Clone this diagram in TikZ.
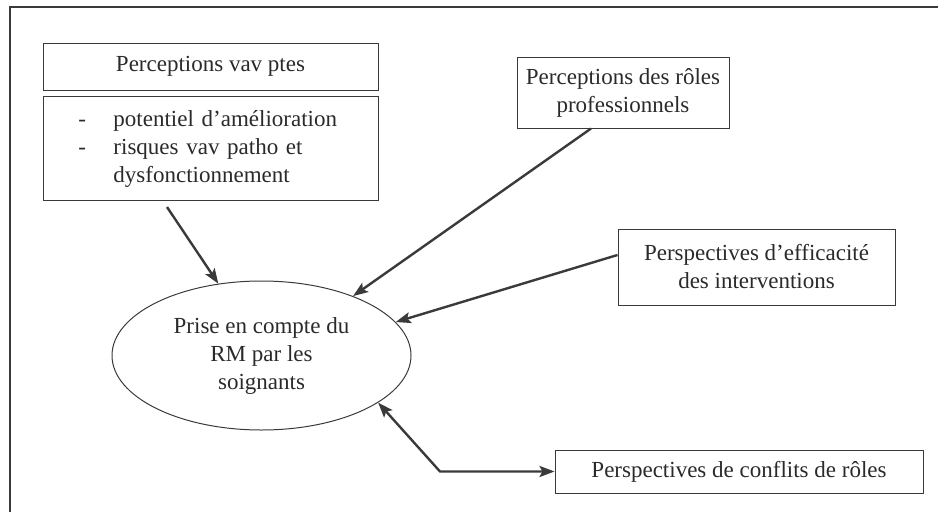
\documentclass[tikz,border=0pt]{standalone}
\usepackage{fontspec}
\setmainfont{Liberation Serif}
\usetikzlibrary{arrows.meta,shapes.geometric,calc}

\definecolor{ink}{HTML}{2A2A2A}
\definecolor{rule}{HTML}{3A3A3A}

\tikzset{
  txt/.style={text=ink, font=\fontsize{23}{28}\selectfont},
  box/.style={draw=rule, line width=1pt, txt, inner sep=0pt, align=center},
  link/.style={draw=rule, line width=2.4pt,
    -{Stealth[length=15pt,width=11pt,inset=3pt]}},
  duallink/.style={draw=rule, line width=2.4pt,
    {Stealth[length=15pt,width=11pt,inset=3pt]}-{Stealth[length=15pt,width=11pt,inset=3pt]}}
}

\begin{document}
\begin{tikzpicture}[x=1pt,y=-1pt]
  \useasboundingbox (0,0) rectangle (938,512);

  % page frame (left and top edges)
  \draw[rule, line width=1.4pt] (10,512) -- (10,7) -- (938,7);

  % top-left group: heading and list
  \node[box, minimum width=335pt, minimum height=47pt] (pv) at (210.5,66.5)
    {Perceptions vav ptes};
  \node[box, anchor=north west, text width=335pt, minimum height=104pt, align=left]
    (pl) at (43,96)
    {\begin{tabular}{@{\hspace{35pt}}p{35pt}@{}l@{}}
      - & potentiel d’amélioration\\
      - & risques vav patho et\\
        & dysfonctionnement
     \end{tabular}};

  % other factors
  \node[box, minimum width=212pt, minimum height=71pt] (pr) at (623,92.5)
    {Perceptions des rôles\\professionnels};
  \node[box, minimum width=277pt, minimum height=76pt] (pe) at (756.5,267)
    {Perspectives d’efficacité\\des interventions};
  \node[box, minimum width=368pt, minimum height=43pt] (pc) at (739,471.5)
    {Perspectives de conflits de rôles};

  % central outcome
  \node[ellipse, draw=rule, line width=1pt, txt, align=center, inner sep=0pt,
        minimum width=299pt, minimum height=149pt] (rm) at (261.5,355.5)
    {Prise en compte du\\RM par les\\soignants};

  % connectors
  \coordinate (s1) at (167,207);
  \draw[link] (s1) -- (rm.121);
  \draw[link] ($(pr.south west)!0.35!(pr.south east)$) -- (rm.33);
  \draw[link] ($(pe.west)+(0,-12)$) -- (rm.14);
  \coordinate (bend) at (440,471.5);
  \draw[duallink] (rm.-22) -- (bend) -- (pc.west);
\end{tikzpicture}
\end{document}
